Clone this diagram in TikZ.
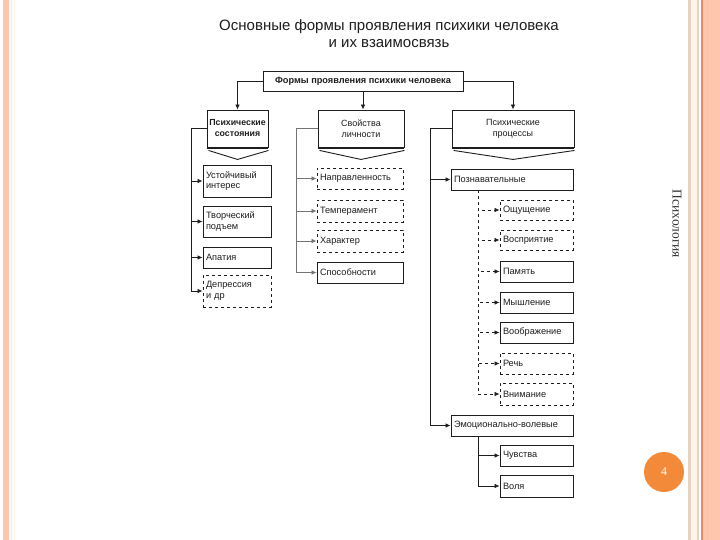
\documentclass[tikz,border=0pt]{standalone}
\usepackage{fontspec}
\setmainfont{Liberation Sans}
\newfontfamily\sidefont{Liberation Serif}
\usetikzlibrary{arrows.meta,calc}
\definecolor{salmon}{HTML}{FFC6AE}
\definecolor{orangeline}{HTML}{EE8A62}
\definecolor{tanline}{HTML}{E8D2C2}
\definecolor{creamline}{HTML}{FFF4E6}
\definecolor{badge}{HTML}{F28A3A}
\definecolor{ink}{HTML}{1E1E1E}
\tikzset{
  pbox/.style={draw=ink, line width=0.9pt, rectangle, inner ysep=1.5pt, inner xsep=3pt, align=left,
     font=\fontsize{9.2}{10.5}\selectfont, text=ink},
  hbox/.style={draw=ink, line width=0.9pt, rectangle, inner sep=1pt, align=center,
     font=\bfseries\fontsize{8.8}{11}\selectfont, text=ink},
  dbox/.style={pbox, dashed},
  arr/.style={draw=ink, line width=0.75pt, -{Latex[length=5pt,width=4.5pt]}},
}
\begin{document}
\begin{tikzpicture}[x=1pt,y=-1pt]
\useasboundingbox (0,0) rectangle (720,540);
% page decoration
\fill[white] (0,0) rectangle (720,540);
\fill[salmon] (3,0) rectangle (9,540);
\fill[creamline!70!salmon] (11,0) rectangle (12,540);
\fill[creamline] (14,0) rectangle (15,540);
\fill[tanline] (688,0) rectangle (691,540);
\fill[creamline] (691,0) rectangle (697,540);
\fill[tanline] (697,0) rectangle (699,540);
\fill[orangeline] (701,0) rectangle (703,540);
\fill[salmon] (703,0) rectangle (720,540);
\fill[salmon!85!orangeline] (707,0) rectangle (708,540);
\node[font=\sidefont\fontsize{13.5}{13.5}\selectfont, text=black!80, rotate=-90] (side) at (677,224) {Психология};
\node[circle, fill=badge, minimum size=40pt, inner sep=0pt, text=white, font=\sidefont\fontsize{12}{12}\selectfont] (pg) at (664,472) {4};

% title
\node[font=\fontsize{15}{17}\selectfont, text=ink, align=center] (title) at (389,34) {Основные формы проявления психики человека\\и их взаимосвязь};

% top box
\node[hbox, minimum width=200pt, minimum height=20pt, font=\bfseries\fontsize{9.2}{10}\selectfont] (top) at (363,81) {Формы проявления психики человека};

% header boxes
\node[hbox, minimum width=61pt, minimum height=37pt] (ps) at (237.5,128.5) {Психические\\состояния};
\node[hbox, minimum width=86pt, minimum height=37pt, font=\fontsize{9}{11}\selectfont] (sl) at (361,128.5) {Свойства\\личности};
\node[hbox, minimum width=122pt, minimum height=37pt, font=\fontsize{9}{11}\selectfont] (pp) at (513,128.5) {Психические\\процессы};

% chevrons under header boxes
\foreach \b in {ps,sl,pp}{
  \draw[ink, line width=1.8pt] ($(\b.south west)+(0,0.9)$) -- ($(\b.south east)+(0,0.9)$);
  \draw[ink, line width=0.9pt] ($(\b.south west)+(2,3)$) -- ($(\b.south)+(0,12)$) -- ($(\b.south east)+(0,3)$);
}

% top connectors
\draw[arr] (top.west) -| (ps.north);
\draw[arr] (top.east) -| (pp.north);
\draw[arr] (top.south) -- (top.south |- sl.north);

% left column
\node[pbox, minimum width=68pt, minimum height=32pt, text width=62pt] (a1) at (237,181) {Устойчивый\\интерес};
\node[pbox, minimum width=68pt, minimum height=31pt, text width=62pt] (a2) at (237,221.5) {Творческий\\подъем};
\node[pbox, minimum width=68pt, minimum height=21pt, text width=62pt] (a3) at (237,257.5) {Апатия};
\node[dbox, minimum width=68pt, minimum height=32pt, text width=62pt] (a4) at (237,291) {Депрессия\\и др};
\coordinate (lx) at (191,0);
\foreach \n in {a1,a2,a3,a4}{
  \draw[arr] (ps.west) -| (lx |- \n.west) -- (\n.west);
}

% middle column
\node[dbox, minimum width=86pt, minimum height=21pt, text width=80pt] (b1) at (360,178.5) {Направленность};
\node[dbox, minimum width=86pt, minimum height=22pt, text width=80pt] (b2) at (360,211) {Темперамент};
\node[dbox, minimum width=86pt, minimum height=22pt, text width=80pt] (b3) at (360,241) {Характер};
\node[pbox, minimum width=86pt, minimum height=21pt, text width=80pt] (b4) at (360,272.5) {Способности};
\coordinate (mx) at (296,0);
\foreach \n in {b1,b2,b3,b4}{
  \draw[arr, draw=black!55] (sl.west) -| (mx |- \n.west) -- (\n.west);
}

% right column
\node[pbox, minimum width=122pt, minimum height=21pt, text width=116pt] (c1) at (512,179.5) {Познавательные};
\node[pbox, minimum width=122pt, minimum height=21pt, text width=116pt] (c2) at (512,425.5) {Эмоционально-волевые};
\coordinate (rx) at (430,0);
\draw[arr] (pp.west) -| (rx |- c1.west) -- (c1.west);
\draw[arr] (pp.west) -| (rx |- c2.west) -- (c2.west);

\node[dbox, minimum width=73pt, minimum height=20pt, text width=67pt] (d1) at (536.5,210) {Ощущение};
\node[dbox, minimum width=73pt, minimum height=20pt, text width=67pt] (d2) at (536.5,240) {Восприятие};
\node[pbox, minimum width=73pt, minimum height=21pt, text width=67pt] (d3) at (536.5,271.5) {Память};
\node[pbox, minimum width=73pt, minimum height=21pt, text width=67pt] (d4) at (536.5,302.5) {Мышление};
\node[pbox, minimum width=73pt, minimum height=21pt, text width=67pt] (d5) at (536.5,332.5) {Воображение};
\node[dbox, minimum width=73pt, minimum height=21pt, text width=67pt] (d6) at (536.5,363.5) {Речь};
\node[dbox, minimum width=73pt, minimum height=22pt, text width=67pt] (d7) at (536.5,394) {Внимание};
\coordinate (sx) at (478,0);
\foreach \n in {d1,d2,d3,d4,d5,d6,d7}{
  \draw[arr, dashed] (c1.south -| sx) |- (\n.west);
}

\node[pbox, minimum width=73pt, minimum height=21pt, text width=67pt] (e1) at (536.5,455.5) {Чувства};
\node[pbox, minimum width=73pt, minimum height=22pt, text width=67pt] (e2) at (536.5,486) {Воля};
\foreach \n in {e1,e2}{
  \draw[arr] (c2.south -| sx) |- (\n.west);
}
\end{tikzpicture}
\end{document}
